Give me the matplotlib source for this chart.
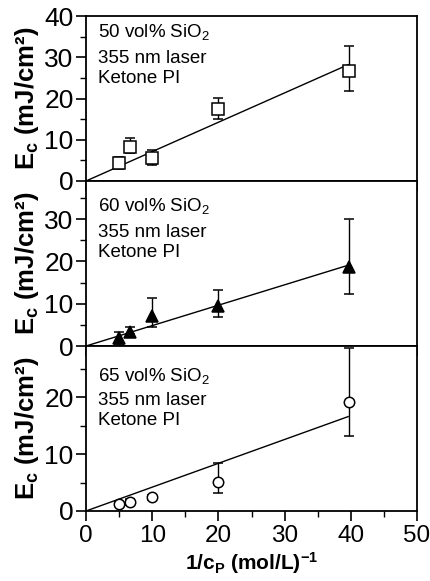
import numpy as np
import matplotlib
matplotlib.use("Agg")
import matplotlib.pyplot as plt
from matplotlib.ticker import MultipleLocator

plt.rcParams["font.family"] = ["Liberation Sans", "DejaVu Sans"]
plt.rcParams["mathtext.fontset"] = "custom"
plt.rcParams["mathtext.rm"] = "Liberation Sans"
plt.rcParams["mathtext.it"] = "Liberation Sans"
plt.rcParams["mathtext.bf"] = "Liberation Sans:bold"

# x values: 1/c_P (mol/L)^-1
inv_cp = [5.0, 6.6, 10.0, 20.0, 39.7]

# 50 vol% SiO2 (open squares)
ec_50 = [4.3, 8.3, 5.6, 17.5, 26.7]
err_50_lo = [1.4, 1.6, 1.8, 2.5, 4.9]
err_50_hi = [1.6, 2.1, 2.0, 2.6, 6.1]
slope_50 = 0.712

# 60 vol% SiO2 (filled triangles)
ec_60 = [1.8, 3.4, 7.0, 9.4, 18.7]
err_60_lo = [1.4, 0.6, 2.4, 2.5, 6.4]
err_60_hi = [1.5, 1.2, 4.3, 3.9, 11.3]
slope_60 = 0.482

# 65 vol% SiO2 (open circles)
ec_65 = [1.2, 1.6, 2.4, 5.1, 19.1]
err_65_lo = [0.4, 0.5, 0.4, 2.0, 5.9]
err_65_hi = [0.4, 0.5, 0.4, 3.4, 9.5]
slope_65 = 0.419

fit_x = [0.0, 39.6]

labels = ["50 vol% SiO$_2$", "60 vol% SiO$_2$", "65 vol% SiO$_2$"]
line2 = "355 nm laser"
line3 = "Ketone PI"

fig = plt.figure(figsize=(4.30, 5.81), dpi=100)

W, H = 430, 581
left, right = 86, 417
tops = [16, 181, 346]
ph = 165
# baseline offsets (px from panel top) of the three annotation lines
text_offsets = [(21, 47, 67), (30, 56, 76), (35, 59, 79)]

panels = [
    (ec_50, err_50_lo, err_50_hi, slope_50, "s", "white", (0, 40), [0, 10, 20, 30, 40]),
    (ec_60, err_60_lo, err_60_hi, slope_60, "^", "black", (0, 39), [0, 10, 20, 30]),
    (ec_65, err_65_lo, err_65_hi, slope_65, "o", "white", (0, 29), [0, 10, 20]),
]

for i, (ec, elo, ehi, slope, mk, fc, ylim, yt) in enumerate(panels):
    ax = fig.add_axes([left / W, 1 - (tops[i] + ph) / H, (right - left) / W, ph / H])
    fx = np.array(fit_x)
    ax.plot(fx, fx * slope, color="black", lw=1.0, zorder=2)
    ax.errorbar(inv_cp, ec, yerr=[elo, ehi], fmt=mk, ms=8.5 if mk != "o" else 7.5,
                mfc=fc, mec="black", mew=1.1, ecolor="black", elinewidth=1.0,
                capsize=3.5, capthick=1.0, zorder=3, clip_on=False)
    ax.set_xlim(0, 50)
    ax.set_ylim(*ylim)
    ax.set_yticks(yt)
    ax.xaxis.set_major_locator(MultipleLocator(10))
    ax.xaxis.set_minor_locator(MultipleLocator(5))
    ax.yaxis.set_minor_locator(MultipleLocator(5))
    ax.tick_params(which="major", direction="out", length=7, width=1.2)
    ax.tick_params(which="minor", direction="out", length=4, width=1.0)
    ax.tick_params(axis="y", pad=2, labelsize=19)
    ax.tick_params(axis="x", pad=3, labelsize=17.5)
    for sp in ax.spines.values():
        sp.set_linewidth(1.3)
    if i < 2:
        ax.tick_params(axis="x", labelbottom=False)
    else:
        ax.set_xlabel(r"1/c$_\mathbf{P}$ (mol/L)$^\mathbf{-1}$", fontsize=15,
                      fontweight="bold", labelpad=2)
    ax.set_ylabel(r"E$_\mathbf{c}$ (mJ/cm²)", fontsize=18.5, fontweight="bold", labelpad=2)
    for txt, off in zip([labels[i], line2, line3], text_offsets[i]):
        ax.text(0.036, 1 - off / ph, txt, transform=ax.transAxes, fontsize=13.5,
                va="baseline", ha="left")

fig.savefig("out.png", dpi=100)
